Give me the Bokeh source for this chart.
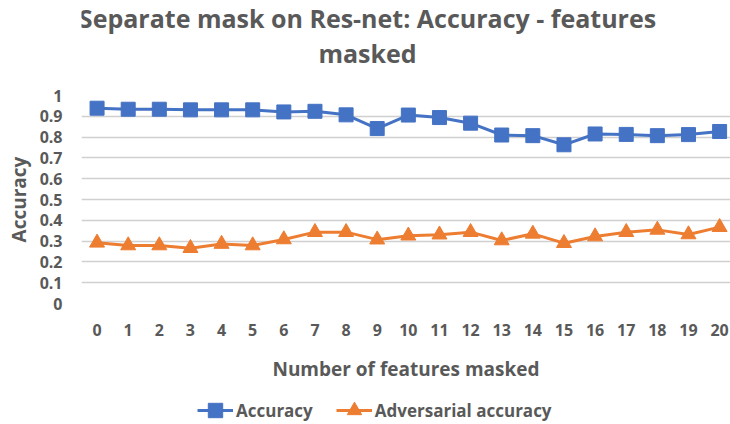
from bokeh.plotting import figure
from bokeh.layouts import column
from bokeh.models import (Range1d, FixedTicker, PrintfTickFormatter, Legend, LegendItem, Label)
from bokeh.embed import file_html
from bokeh.resources import INLINE

# ---- data ----
features = list(range(21))
accuracy = [0.939, 0.934, 0.934, 0.931, 0.931, 0.931, 0.921, 0.924, 0.907, 0.841,
            0.906, 0.894, 0.867, 0.810, 0.807, 0.763, 0.815, 0.813, 0.807, 0.812, 0.827]
adversarial = [0.292, 0.279, 0.279, 0.266, 0.286, 0.279, 0.308, 0.343, 0.343, 0.307,
               0.326, 0.331, 0.343, 0.303, 0.335, 0.290, 0.322, 0.343, 0.354, 0.332, 0.367]
y_ticks = [0, 0.1, 0.2, 0.3, 0.4, 0.5, 0.6, 0.7, 0.8, 0.9, 1]
title_lines = ["Separate mask on Res-net: Accuracy - features", "masked"]
x_title = "Number of features masked"
y_title = "Accuracy"
series_names = ["Accuracy", "Adversarial accuracy"]

BLUE = "#4472C4"
ORANGE = "#ED7D31"
TXT = "#595959"
FONT = "Open Sans"

W = 730
LEFT = 81          # frame left edge (shared by all stacked figures)
TITLE_H = 80
MAIN_H = 306
LEG_H = 424 - TITLE_H - MAIN_H


def bare(fig):
    fig.outline_line_color = None
    fig.xgrid.grid_line_color = None
    fig.ygrid.grid_line_color = None
    fig.border_fill_color = "white"
    fig.background_fill_color = "white"


# ---- title strip ----
tf = figure(width=W, height=TITLE_H, output_backend="svg", toolbar_location=None,
            x_range=Range1d(LEFT, W), y_range=Range1d(TITLE_H, 0), title=None,
            x_axis_type=None, y_axis_type=None,
            min_border_left=LEFT, min_border_right=0, min_border_top=0, min_border_bottom=0)
bare(tf)
for txt, yy in zip(title_lines, [17, 52]):
    tf.add_layout(Label(x=367, y=yy, text=txt, text_align="center",
                        text_baseline="alphabetic", text_font=FONT,
                        text_font_style="bold", text_font_size="25px", text_color=TXT))

# ---- main chart ----
p = figure(width=W, height=MAIN_H, output_backend="svg", toolbar_location=None,
           x_range=Range1d(-0.5, 20.35), y_range=Range1d(0, 1), title=None,
           min_border_left=LEFT, min_border_right=0, min_border_top=15,
           min_border_bottom=MAIN_H - 15 - 208)
p.outline_line_color = None
p.background_fill_color = "white"
p.border_fill_color = "white"

p.xgrid.grid_line_color = None
p.ygrid.grid_line_color = "#D0D0D0"
p.ygrid.grid_line_width = 1.5
p.ygrid.ticker = FixedTicker(ticks=y_ticks)

for ax in (p.xaxis[0], p.yaxis[0]):
    ax.axis_line_color = None
    ax.major_tick_line_color = None
    ax.minor_tick_line_color = None
    ax.major_tick_out = 0
    ax.major_tick_in = 0
    ax.major_label_text_font = FONT
    ax.major_label_text_font_style = "bold"
    ax.major_label_text_font_size = "16px"
    ax.major_label_text_color = TXT
    ax.axis_label_text_font = FONT
    ax.axis_label_text_font_style = "bold"
    ax.axis_label_text_font_size = "19px"
    ax.axis_label_text_color = TXT

p.xaxis.ticker = FixedTicker(ticks=features)
p.xaxis.major_label_standoff = 20
p.xaxis.axis_label = x_title
p.xaxis.axis_label_standoff = 17

p.yaxis.ticker = FixedTicker(ticks=y_ticks)
p.yaxis.formatter = PrintfTickFormatter(format="%g")
p.yaxis.major_label_standoff = 19
p.yaxis.axis_label = y_title
p.yaxis.axis_label_standoff = 5

p.line(features, accuracy, line_color=BLUE, line_width=3)
p.scatter(features, accuracy, marker="square", size=14, fill_color=BLUE, line_color=BLUE)
p.line(features, adversarial, line_color=ORANGE, line_width=3)
p.scatter(features, adversarial, marker="triangle", size=15, fill_color=ORANGE, line_color=ORANGE)

# ---- legend strip (legend keys only; NaN proxies draw nothing themselves) ----
lf = figure(width=W, height=LEG_H, output_backend="svg", toolbar_location=None,
            x_range=Range1d(0, 1), y_range=Range1d(0, 1), title=None,
            x_axis_type=None, y_axis_type=None,
            min_border_left=LEFT, min_border_right=0, min_border_top=0, min_border_bottom=0)
bare(lf)
nan = [float("nan")]
k1l = lf.line(x=nan, y=nan, line_color=BLUE, line_width=3)
k1m = lf.scatter(x=nan, y=nan, marker="square", size=14, fill_color=BLUE, line_color=BLUE)
k2l = lf.line(x=nan, y=nan, line_color=ORANGE, line_width=3)
k2m = lf.scatter(x=nan, y=nan, marker="triangle", size=15, fill_color=ORANGE, line_color=ORANGE)
legend = Legend(items=[LegendItem(label=series_names[0], renderers=[k1l, k1m]),
                       LegendItem(label=series_names[1], renderers=[k2l, k2m])],
                orientation="horizontal", location=(197 - LEFT, -5),
                glyph_width=36, glyph_height=38, label_standoff=3, spacing=23,
                padding=0, margin=0, border_line_color=None, background_fill_alpha=0,
                label_text_font=FONT, label_text_font_style="bold",
                label_text_font_size="17px", label_text_color=TXT)
lf.add_layout(legend, "center")

layout = column(tf, p, lf, spacing=0)
open("out.html", "w").write(file_html(layout, INLINE))
